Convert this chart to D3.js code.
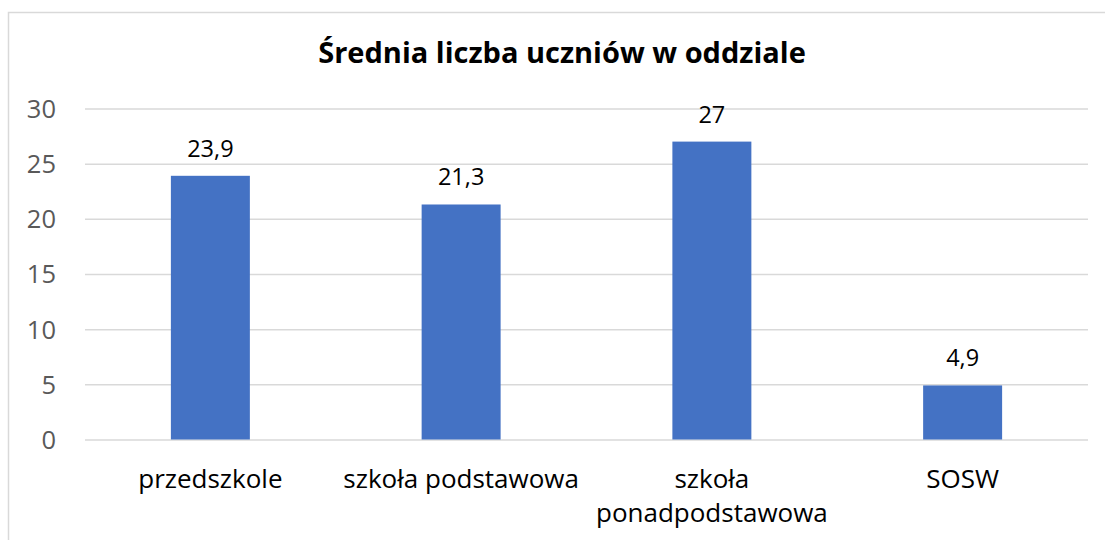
<!DOCTYPE html>
<html>
<head>
<meta charset="utf-8">
<script src="https://cdn.jsdelivr.net/npm/d3@7"></script>
<style>
  body { margin: 0; background: #fff; }
  text { font-family: "Open Sans", sans-serif; }
</style>
</head>
<body>
<div id="app"></div>
<script>
const categories = ["przedszkole", "szkoła podstawowa", "szkoła\nponadpodstawowa", "SOSW"];
const values = [23.9, 21.3, 27, 4.9];
const valueLabels = ["23,9", "21,3", "27", "4,9"];
const yTicks = [0, 5, 10, 15, 20, 25, 30];
const title = "Średnia liczba uczniów w oddziale";

const width = 1105, height = 540;
const plot = { left: 85, right: 1088, top: 108.5, bottom: 439.5 };

const svg = d3.select('#app')
    .append('svg')
    .attr('width', width)
    .attr('height', height);

// ramka wykresu
svg.append('rect')
    .attr('x', 8.5).attr('y', 12.5)
    .attr('width', 1110).attr('height', 540)
    .attr('fill', 'none')
    .attr('stroke', '#d9d9d9')
    .attr('stroke-width', 1.5);

svg.append('text')
    .attr('x', 562).attr('y', 63)
    .attr('text-anchor', 'middle')
    .attr('font-size', 29)
    .attr('font-weight', 'bold')
    .attr('fill', '#000')
    .text(title);

const xScale = d3.scaleBand()
    .domain(categories)
    .range([plot.left, plot.right]);
const yScale = d3.scaleLinear()
    .domain([0, 30])
    .range([plot.bottom, plot.top]);

// siatka + oś Y
const yAxis = svg.append('g')
    .attr('transform', `translate(${plot.left},0)`)
    .call(d3.axisLeft(yScale).tickValues(yTicks)
        .tickSize(-(plot.right - plot.left)).tickPadding(29));
yAxis.select('.domain').remove();
yAxis.selectAll('.tick line').attr('stroke', '#d9d9d9').attr('stroke-width', 1.5);
yAxis.selectAll('.tick text')
    .attr('font-size', 25.5)
    .attr('fill', '#595959')
    .attr('dy', '0.35em');

const barW = xScale.bandwidth() * 0.315;

svg.selectAll('.bar')
    .data(values)
    .join('rect')
    .classed('bar', true)
    .attr('x', (d, i) => xScale(categories[i]) + (xScale.bandwidth() - barW) / 2)
    .attr('y', d => yScale(d))
    .attr('width', barW)
    .attr('height', d => yScale(0) - yScale(d))
    .attr('fill', '#4472c4');

svg.selectAll('.val')
    .data(values)
    .join('text')
    .classed('val', true)
    .attr('x', (d, i) => xScale(categories[i]) + xScale.bandwidth() / 2)
    .attr('y', d => yScale(d) - 19)
    .attr('text-anchor', 'middle')
    .attr('font-size', 23.5)
    .attr('fill', '#000')
    .text((d, i) => valueLabels[i]);

// etykiety kategorii
const catG = svg.selectAll('.cat')
    .data(categories)
    .join('text')
    .classed('cat', true)
    .attr('x', d => xScale(d) + xScale.bandwidth() / 2)
    .attr('y', 488)
    .attr('text-anchor', 'middle')
    .attr('font-size', 26)
    .attr('fill', '#000');
catG.each(function (d) {
    const lines = d.split('\n');
    const x = xScale(d) + xScale.bandwidth() / 2;
    d3.select(this).selectAll('tspan')
        .data(lines)
        .join('tspan')
        .attr('x', x)
        .attr('dy', (l, i) => i === 0 ? 0 : 34)
        .text(l => l);
});
</script>
</body>
</html>
